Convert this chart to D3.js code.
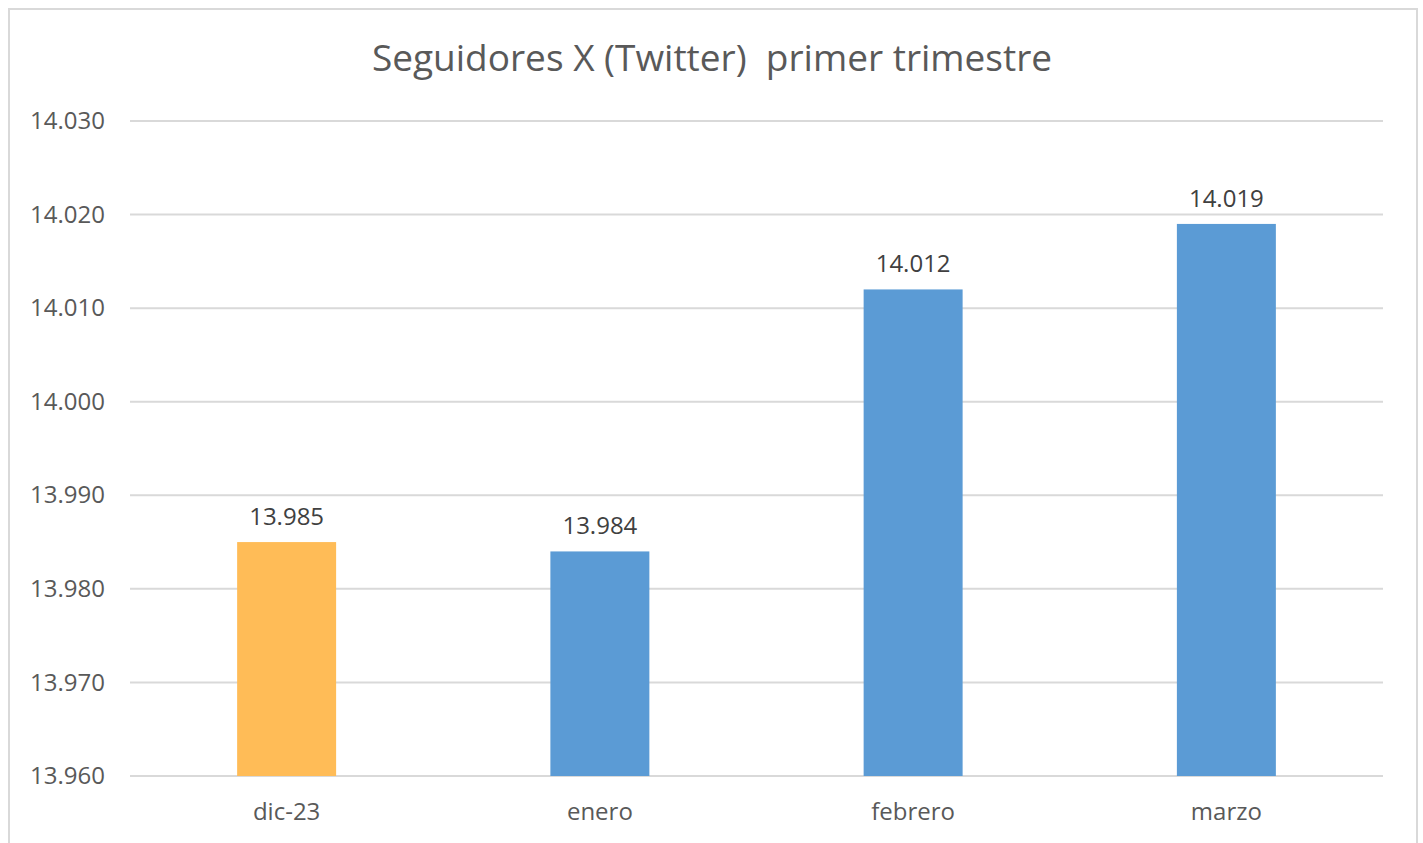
<!DOCTYPE html>
<html>
<head>
<meta charset="utf-8">
<script src="https://cdn.jsdelivr.net/npm/d3@7"></script>
<style>
  body { margin: 0; background: #fff; }
  text { font-family: "Open Sans", sans-serif; fill: #595959; }
</style>
</head>
<body>
<div id="chart"></div>
<script>
const months = ["dic-23", "enero", "febrero", "marzo"];
const followers = [13985, 13984, 14012, 14019];
const barColors = ["#FFBC57", "#5B9BD5", "#5B9BD5", "#5B9BD5"];
const yTicks = [13960, 13970, 13980, 13990, 14000, 14010, 14020, 14030];
const title = "Seguidores X (Twitter)  primer trimestre";

const width = 1423;
const height = 843;
const plot = { left: 130, right: 1383, top: 121, bottom: 776 };

// numbers as "14.030" (thousands with a dot)
const fmt = (v) => d3.format(",")(v).replace(/,/g, ".");

const svg = d3.select("#chart").append("svg")
  .attr("width", width)
  .attr("height", height);

svg.append("rect")
  .attr("x", 9)
  .attr("y", 9)
  .attr("width", 1408)
  .attr("height", 850)
  .style("fill", "#fff")
  .style("stroke", "#d9d9d9")
  .style("stroke-width", 2);

const x = d3.scaleBand()
  .domain(months)
  .range([plot.left, plot.right])
  .paddingInner(0.684)
  .paddingOuter(0.342);

const y = d3.scaleLinear()
  .domain([13960, 14030])
  .range([plot.bottom, plot.top]);

// grid lines
svg.append("g").selectAll("line").data(yTicks).enter().append("line")
  .attr("x1", plot.left)
  .attr("x2", plot.right)
  .attr("y1", (d) => y(d))
  .attr("y2", (d) => y(d))
  .style("stroke", "#d9d9d9")
  .style("stroke-width", 2);

// y axis labels
const yAxis = svg.append("g")
  .attr("transform", `translate(${plot.left}, 0)`)
  .call(d3.axisLeft(y).tickValues(yTicks).tickFormat(fmt).tickSize(0).tickPadding(25));
yAxis.select(".domain").remove();
yAxis.selectAll("text")
  .style("font-family", "'Open Sans', sans-serif")
  .style("font-size", "24px")
  .style("fill", "#595959");

// x axis labels
const xAxis = svg.append("g")
  .attr("transform", `translate(0, ${plot.bottom})`)
  .call(d3.axisBottom(x).tickSize(0).tickPadding(27));
xAxis.select(".domain").remove();
xAxis.selectAll("text")
  .style("font-family", "'Open Sans', sans-serif")
  .style("font-size", "24px")
  .style("fill", "#595959");

// bars
svg.append("g").selectAll("rect").data(months).enter().append("rect")
  .attr("x", (d) => x(d))
  .attr("width", x.bandwidth())
  .attr("y", (d, i) => y(followers[i]))
  .attr("height", (d, i) => y(13960) - y(followers[i]))
  .style("fill", (d, i) => barColors[i]);

// value labels
svg.append("g").selectAll("text").data(months).enter().append("text")
  .attr("x", (d) => x(d) + x.bandwidth() / 2)
  .attr("y", (d, i) => y(followers[i]) - 17)
  .attr("text-anchor", "middle")
  .style("font-size", "24px")
  .style("fill", "#404040")
  .text((d, i) => fmt(followers[i]));

svg.append("text")
  .attr("x", 712)
  .attr("y", 71)
  .attr("text-anchor", "middle")
  .style("white-space", "pre")
  .style("font-size", "37px")
  .text(title);
</script>
</body>
</html>
